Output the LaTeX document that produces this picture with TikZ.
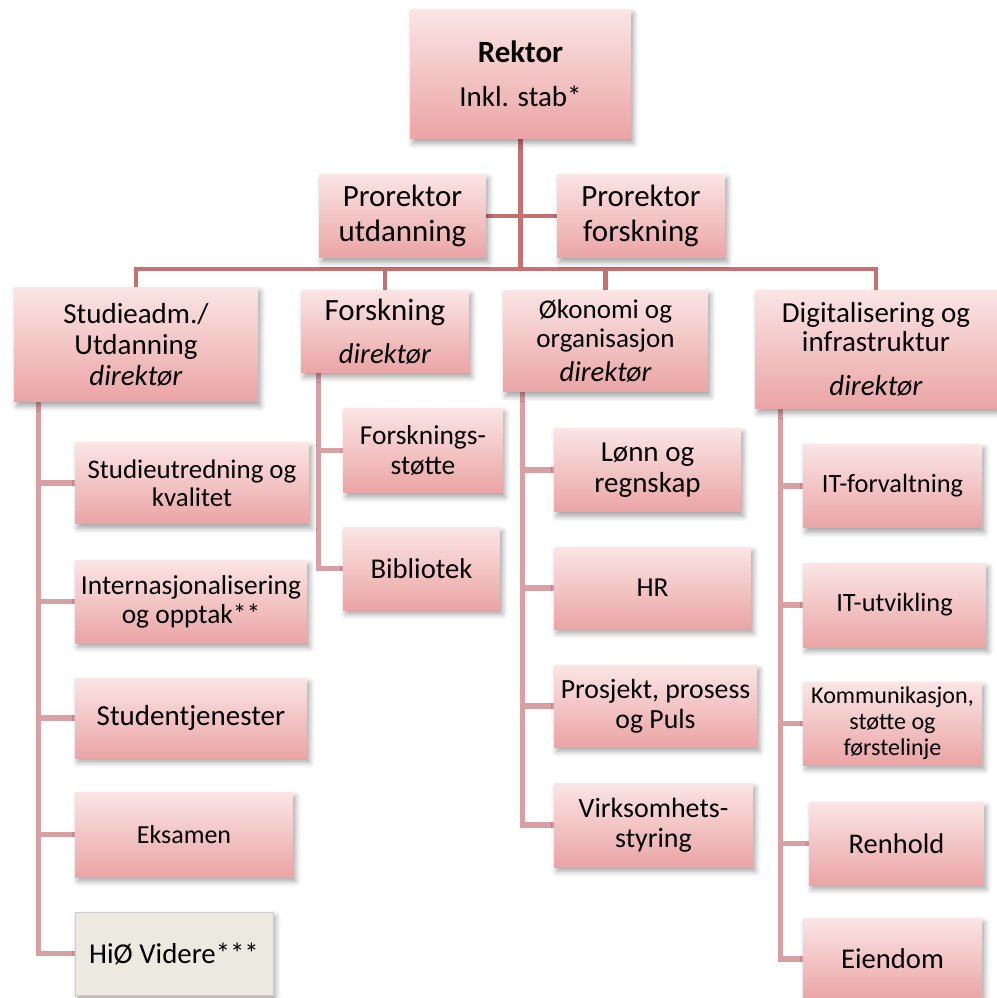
\documentclass[tikz,border=0pt]{standalone}
\usepackage{fontspec}
\setmainfont{Carlito}
\usetikzlibrary{shadows.blur, backgrounds, calc}
\definecolor{boxtop}{RGB}{251,229,229}
\definecolor{boxmid}{RGB}{234,204,205}
\definecolor{boxbot}{RGB}{235,164,165}
\definecolor{linedark}{RGB}{198,112,114}
\definecolor{linelight}{RGB}{217,160,163}
\definecolor{videre}{RGB}{236,234,224}

\tikzset{
  boxshape/.style={rectangle, align=center, inner sep=2pt,
    blur shadow={shadow xshift=1.5pt, shadow yshift=-2.5pt, shadow blur radius=3pt, shadow opacity=35}},
  unitbox/.style={boxshape, top color=boxtop, middle color=boxmid, bottom color=boxbot},
  headbox/.style={unitbox, font=\fontsize{16.5}{17.6}\selectfont},
  subbox/.style={unitbox, font=\fontsize{15.6}{17}\selectfont},
  hiobox/.style={boxshape, fill=videre, draw=black!20, line width=0.4pt},
  orgline/.style={draw=linedark, line width=0.09cm},
  subline/.style={draw=linelight, line width=0.11cm},
}

\begin{document}
\begin{tikzpicture}[x=0.02cm, y=-0.02cm]
    \useasboundingbox (0,0) rectangle (997,998);

    % top level
    \node[headbox, minimum width=4.42cm, minimum height=2.60cm, font=\fontsize{16.5}{25}\selectfont] (rektor) at (520.5,74)
        {{\fontsize{17.6}{25}\selectfont\bfseries Rektor}\\Inkl. stab*};
    \node[headbox, minimum width=3.34cm, minimum height=1.68cm, font=\fontsize{17.6}{20}\selectfont] (proU) at (402.5,216) {Prorektor\\utdanning};
    \node[headbox, minimum width=3.36cm, minimum height=1.68cm, font=\fontsize{17.6}{20}\selectfont] (proF) at (641,216) {Prorektor\\forskning};

    % directors
    \node[headbox, minimum width=4.88cm, minimum height=2.30cm] (studadm) at (136,344.5)
        {Studieadm./\\Utdanning\\\textit{direktør}};
    \node[headbox, minimum width=3.36cm, minimum height=1.66cm, font=\fontsize{16.3}{24.5}\selectfont] (forsk) at (385,331.5)
        {{\fontsize{17.6}{24.5}\selectfont Forskning}\\\textit{direktør}};
    \node[headbox, minimum width=4.10cm, minimum height=2.04cm, font=\fontsize{15.4}{16.5}\selectfont] (okon) at (605.5,341)
        {Økonomi og\\organisasjon\\[2.8pt]{\fontsize{16.3}{16.5}\selectfont\itshape direktør}};
    \node[headbox, minimum width=4.84cm, minimum height=2.38cm, font=\fontsize{16.5}{16.5}\selectfont] (digi) at (876,349.5)
        {Digitalisering og\\infrastruktur\\[8.5pt]\textit{direktør}};

    % studieadm. units
    \node[subbox, minimum width=4.68cm, minimum height=1.64cm, font=\fontsize{15.3}{16}\selectfont] (sUtred) at (192,483) {Studieutredning og\\kvalitet};
    \node[subbox, minimum width=4.64cm, minimum height=1.66cm, font=\fontsize{15.6}{16.5}\selectfont] (sIntern) at (191,601.5) {Internasjonalisering\\og opptak**};
    \node[subbox, minimum width=4.64cm, minimum height=1.60cm, font=\fontsize{16.5}{18}\selectfont] (sStud) at (191,718) {Studentjenester};
    \node[subbox, minimum width=4.36cm, minimum height=1.70cm, font=\fontsize{14.8}{16}\selectfont] (sEksam) at (184,834.5) {Eksamen};
    \node[hiobox, minimum width=3.96cm, minimum height=1.66cm, font=\fontsize{16.4}{18}\selectfont] (sHiO) at (174,953.5) {HiØ Videre***};

    % forskning units
    \node[subbox, minimum width=3.18cm, minimum height=1.70cm, font=\fontsize{15.6}{17.6}\selectfont] (fStotte) at (423,450.5) {Forsknings-\\støtte};
    \node[subbox, minimum width=3.14cm, minimum height=1.66cm, font=\fontsize{16.3}{18}\selectfont] (fBibl) at (421.5,568.5) {Bibliotek};

    % okonomi units
    \node[subbox, minimum width=3.74cm, minimum height=1.68cm, font=\fontsize{16.5}{17.6}\selectfont] (oLonn) at (647.5,470) {Lønn og\\regnskap};
    \node[subbox, minimum width=3.94cm, minimum height=1.64cm] (oHR) at (652.5,588) {HR};
    \node[subbox, minimum width=4.06cm, minimum height=1.64cm, font=\fontsize{15.8}{17}\selectfont] (oProsj) at (655.5,706) {Prosjekt, prosess\\og Puls};
    \node[subbox, minimum width=3.98cm, minimum height=1.68cm, font=\fontsize{15.9}{17}\selectfont] (oVirk) at (653.5,825) {Virksomhets-\\styring};

    % digitalisering units
    \node[subbox, minimum width=3.58cm, minimum height=1.68cm, font=\fontsize{15}{17}\selectfont] (dForv) at (892.5,486) {IT-forvaltning};
    \node[subbox, minimum width=3.66cm, minimum height=1.68cm, font=\fontsize{15}{17}\selectfont] (dUtv) at (894.5,605) {IT-utvikling};
    \node[subbox, minimum width=3.58cm, minimum height=1.66cm, font=\fontsize{13.7}{14.8}\selectfont] (dKomm) at (892.5,723.5) {Kommunikasjon,\\støtte og\\førstelinje};
    \node[subbox, minimum width=3.50cm, minimum height=1.66cm, font=\fontsize{16.2}{18}\selectfont] (dRenh) at (896.5,843.5) {Renhold};
    \node[subbox, minimum width=3.58cm, minimum height=1.64cm, font=\fontsize{16.3}{18}\selectfont] (dEiend) at (892.5,959) {Eiendom};

    \begin{scope}[on background layer]
        \coordinate (bus) at (520.5,269);
        \draw[orgline] (rektor.south) -- (bus);
        \draw[orgline] (proU.east) -- (proF.west);
        \draw[orgline] (studadm.north) |- (bus) -| (digi.north);
        \draw[orgline] (forsk.north) -- (forsk.north |- bus);
        \draw[orgline] (okon.north) -- (okon.north |- bus);

        \coordinate (studspine) at ($(studadm.south west)+(25,0)$);
        \draw[subline] (studspine) |- (sHiO.west);
        \foreach \kid in {sUtred,sIntern,sStud,sEksam}
            \draw[subline] (\kid.west) -- (\kid.west -| studspine);

        \coordinate (forskspine) at ($(forsk.south west)+(18,0)$);
        \draw[subline] (forskspine) |- (fBibl.west);
        \draw[subline] (fStotte.west) -- (fStotte.west -| forskspine);

        \coordinate (okonspine) at ($(okon.south west)+(20,0)$);
        \draw[subline] (okonspine) |- (oVirk.west);
        \foreach \kid in {oLonn,oHR,oProsj}
            \draw[subline] (\kid.west) -- (\kid.west -| okonspine);

        \coordinate (digispine) at ($(digi.south west)+(26,0)$);
        \draw[subline] (digispine) |- (dEiend.west);
        \foreach \kid in {dForv,dUtv,dKomm,dRenh}
            \draw[subline] (\kid.west) -- (\kid.west -| digispine);
    \end{scope}
\end{tikzpicture}
\end{document}
